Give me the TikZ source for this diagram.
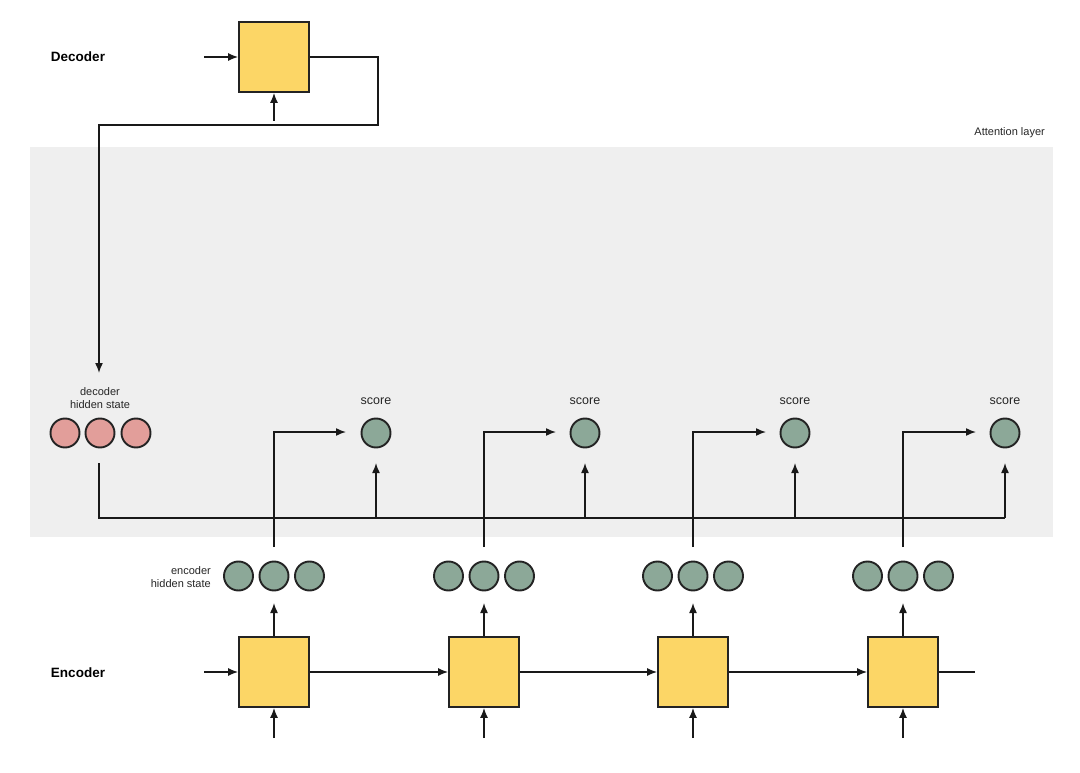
\documentclass[tikz,border=0pt]{standalone}
\usepackage{fontspec}
\setmainfont{Liberation Sans}
\usetikzlibrary{arrows.meta}
\definecolor{boxyellow}{RGB}{252,214,102}
\definecolor{layergray}{RGB}{239,239,239}
\definecolor{encgreen}{RGB}{140,168,152}
\definecolor{decpink}{RGB}{226,158,154}
\definecolor{edge}{RGB}{35,35,35}
\begin{document}
\begin{tikzpicture}[x=1pt,y=-1pt,
  cell/.style={draw=edge,line width=1.8pt,fill=boxyellow,minimum size=70pt,inner sep=0pt},
  enc/.style={circle,draw=edge,line width=1.9pt,fill=encgreen,minimum size=29pt,inner sep=0pt},
  dec/.style={circle,draw=edge,line width=1.9pt,fill=decpink,minimum size=29pt,inner sep=0pt},
  conn/.style={line width=1.5pt,draw=black!90},
  arr/.style={conn,-{Latex[length=10pt,width=8pt]}},
  lab/.style={font=\fontsize{11}{13}\selectfont,text=black!85,align=center,inner sep=0pt},
  big/.style={font=\fontsize{13.5}{15}\selectfont\bfseries,inner sep=0pt}]
\useasboundingbox (0,0) rectangle (1080,773);
\fill[white] (0,0) rectangle (1080,773);
\fill[layergray] (30,147) rectangle (1053,537);
\node[lab,anchor=east] (attn) at (1045,133) {Attention layer};

% decoder
\node[big] (declab) at (78,57) {Decoder};
\node[cell] (dbox) at (274,57) {};
\coordinate (din) at (204,57);
\coordinate (dbot) at (274,121);
\draw[arr] (din) -- (dbox.west);
\draw[arr] (dbot) -- (dbox.south);

% decoder hidden state
\node[lab] (dhlab) at (100,398) {decoder\\hidden state};
\node[dec] (p1) at (65,433) {};
\node[dec] (p2) at (100,433) {};
\node[dec] (p3) at (136,433) {};
\coordinate (dtarget) at (99,373);
\draw[arr] (dbox.east) -- (378,57) -- (378,125) -- (99,125) -- (dtarget);

% score circles
\foreach \i/\x in {1/376,2/585,3/795,4/1005}{
  \node[enc] (s\i) at (\x,433) {};
  \node[lab,font=\fontsize{12.5}{14}\selectfont] (sl\i) at (\x,401) {score};
}

% common line
\coordinate (pbot) at (99,463);
\draw[conn] (pbot) -- (99,518) -- (1005,518);
\foreach \i/\x in {1/376,2/585,3/795,4/1005}{
  \coordinate (b\i) at (\x,518);
  \draw[arr] (b\i) -- (\x,463);
}

% encoder
\node[big] (enclab) at (78,673) {Encoder};
\node[lab,align=right,anchor=east] (ehlab) at (211,577) {encoder\\hidden state};
\foreach \i/\x in {1/274,2/484,3/693,4/903}{
  \node[cell] (e\i) at (\x,672) {};
  \node[enc] (h\i b) at (\x,576) {};
  \node[enc] (h\i a) at (\x-35.5,576) {};
  \node[enc] (h\i c) at (\x+35.5,576) {};
  \coordinate (eb\i) at (\x,738);
  \draw[arr] (eb\i) -- (e\i.south);
  \draw[arr] (e\i.north) -- (\x,603);
  \coordinate (ht\i) at (\x,547);
}
\coordinate (ein) at (204,672);
\draw[arr] (ein) -- (e1.west);
\draw[arr] (e1.east) -- (e2.west);
\draw[arr] (e2.east) -- (e3.west);
\draw[arr] (e3.east) -- (e4.west);
\coordinate (eout) at (975,672);
\draw[conn] (e4.east) -- (eout);

% encoder to score
\draw[arr] (ht1) -- (274,432) -- (346,432);
\draw[arr] (ht2) -- (484,432) -- (556,432);
\draw[arr] (ht3) -- (693,432) -- (766,432);
\draw[arr] (ht4) -- (903,432) -- (976,432);
\end{tikzpicture}
\end{document}
